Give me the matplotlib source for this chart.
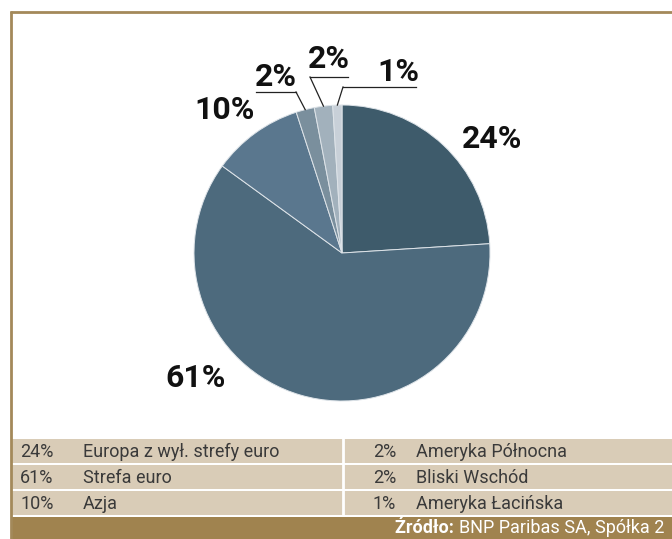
import numpy as np
import matplotlib
matplotlib.use("Agg")
import matplotlib.pyplot as plt

plt.rcParams["font.family"] = ["Liberation Sans Narrow", "Roboto", "DejaVu Sans"]

# data
regions = ["Europa z wył. strefy euro", "Strefa euro", "Azja",
           "Ameryka Północna", "Bliski Wschód", "Ameryka Łacińska"]
shares = [24, 61, 10, 2, 2, 1]
pie_colors = ["#3e5b6b", "#4d6a7d", "#5a778e", "#7a8f9d", "#a2b1bc", "#c8d0d8"]
source_bold = "Źródło:"
source_text = "BNP Paribas SA, Spółka 2"

W, H = 672, 539
BROWN = "#a3895a"
BEIGE = "#d9ccb7"
TXT = "#3a3a3a"

fig = plt.figure(figsize=(W / 100, H / 100), dpi=100)
ax = fig.add_axes([0, 0, 1, 1])


def fy(y):
    # image pixel row -> axes y
    return H - y


cx, cy, r = 342, 253, 148
wedges, _ = ax.pie(shares, colors=pie_colors, startangle=90, counterclock=False,
                   center=(cx, fy(cy)), radius=r,
                   wedgeprops=dict(edgecolor="#dde3e8", linewidth=0.7))

ax.set_xlim(0, W)
ax.set_ylim(0, H)
ax.set_aspect("auto")
ax.axis("off")

# big labels
big = dict(fontsize=23, fontweight="bold", color="#111111", ha="center", va="center")
ax.text(492, fy(139), f"{shares[0]}%", **big)
ax.text(196, fy(378), f"{shares[1]}%", **big)
ax.text(225, fy(110), f"{shares[2]}%", **big)

# small slices with leader lines
small = [(3, 276, 77, (256, 296), 92, 296),
         (4, 329, 59, (310, 348), 77, 310),
         (5, 398, 72, (343, 416), 87, 343)]
for idx, tx, ty, (ux0, ux1), uy, kx in small:
    w = wedges[idx]
    mid = np.deg2rad((w.theta1 + w.theta2) / 2)
    px = cx + r * np.cos(mid)
    py = fy(cy) + r * np.sin(mid)
    ax.text(tx, fy(ty), f"{shares[idx]}%", **big)
    ax.plot([ux0, ux1], [fy(uy), fy(uy)], color="#222222", lw=0.9)
    ax.plot([kx, px], [fy(uy), py], color="#222222", lw=0.9)

# frame
ax.plot([10, W], [fy(11.5), fy(11.5)], color=BROWN, lw=2, solid_capstyle="butt")
ax.plot([10.5, 10.5], [fy(11), 0], color=BROWN, lw=2, solid_capstyle="butt")

# legend table
row_tops = [439, 465, 491]
row_h = 24
for i, top in enumerate(row_tops):
    ax.add_patch(plt.Rectangle((12, fy(top + row_h)), W - 12, row_h,
                               facecolor=BEIGE, edgecolor="none"))
    ymid = fy(top + row_h / 2 + 1)
    left, right = i, i + 3
    ax.text(20, ymid, f"{shares[left]}%", fontsize=13, color=TXT, va="center")
    ax.text(83, ymid, regions[left], fontsize=13, color=TXT, va="center")
    ax.text(373, ymid, f"{shares[right]}%", fontsize=13, color=TXT, va="center")
    ax.text(416, ymid, regions[right], fontsize=13, color=TXT, va="center")
ax.plot([343, 343], [fy(439), fy(515)], color="white", lw=2)

# footer
ax.add_patch(plt.Rectangle((12, 0), W - 12, fy(517), facecolor="#a0834f", edgecolor="none"))
t = ax.text(664, fy(528), source_text, fontsize=13, color="white", ha="right", va="center")
fig.canvas.draw()
bb = t.get_window_extent()
ax.annotate(source_bold + " ", xy=(0, 0.5), xycoords=t, fontsize=13, fontweight="bold",
            color="white", ha="right", va="center")

fig.savefig("out.png", dpi=100)
